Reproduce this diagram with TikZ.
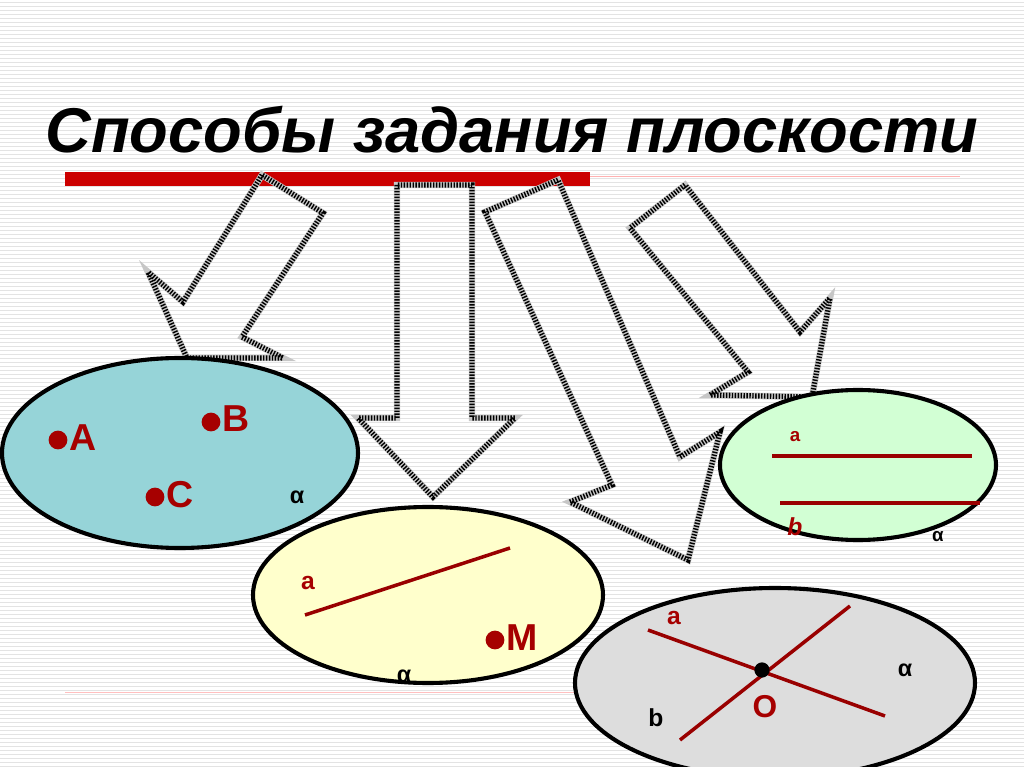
\documentclass[tikz,border=0pt]{standalone}
\usepackage{fontspec}
\setmainfont{Liberation Sans}
\begin{document}
\begin{tikzpicture}[x=0.03cm,y=-0.03cm,
  arr/.style={line width=5.5pt,draw=gray!45,line join=miter},
  arrd/.style={line width=4.5pt,draw=black,dash pattern=on 1.2pt off 1.3pt},
  pl/.style={line width=3pt,draw=red!60!black},
  dt/.style={circle,fill=red!65!black,inner sep=0pt,minimum size=16pt},
  lbl/.style={text=red!65!black,font=\bfseries\fontsize{32}{32}\selectfont},
  sl/.style={text=red!65!black,font=\bfseries\fontsize{21}{21}\selectfont},
  al/.style={font=\bfseries\fontsize{20}{20}\selectfont},
  ell/.style={draw=black,line width=3.5pt}]
\useasboundingbox (0,0) rectangle (1024,767);
\fill[white] (0,0) rectangle (1024,767);
\foreach \y in {2,6,...,766} \draw[gray!22,line width=0.5pt] (0,\y) -- (1024,\y);
\node[font=\bfseries\itshape\fontsize{54}{54}\selectfont] (title) at (512,130) {Способы задания плоскости};
\draw[red!30,line width=0.6pt] (590,176) -- (960,176);
\fill[red!80!black] (65,172) rectangle (590,186);
\draw[red!25,line width=0.8pt] (65,692) -- (960,692);
% arrows
\foreach \s in {arr,arrd}{
\draw[\s] (262,175)--(183,302)--(148,272)--(187,358)--(283,358)--(242,337)--(323,213)--cycle;
\draw[\s] (397,185)--(397,418)--(358,418)--(433,497)--(515,418)--(472,418)--(472,185)--cycle;
\draw[\s] (558,180)--(485,212)--(612,485)--(570,502)--(688,560)--(720,432)--(680,457)--cycle;
\draw[\s] (685,185)--(630,228)--(748,372)--(710,395)--(812,397)--(830,298)--(800,332)--cycle;
}
% ellipse 1
\draw[ell,fill={rgb,255:red,150;green,212;blue,216}] (180,453) ellipse [x radius=178,y radius=95];
\node[dt] (dA) at (58,440) {}; \node[lbl,anchor=west] (A) at (65,438) {A};
\node[dt] (dB) at (211,422) {}; \node[lbl,anchor=west] (B) at (218,419) {B};
\node[dt] (dC) at (155,497) {}; \node[lbl,anchor=west] (C) at (162,495) {C};
\node[al] (al1) at (297,497) {α};
% ellipse 2
\draw[ell,fill={rgb,255:red,255;green,255;blue,204}] (428,595) ellipse [x radius=175,y radius=88];
\coordinate (a2s) at (305,615); \coordinate (a2e) at (510,548);
\draw[pl] (a2s) -- (a2e);
\node[sl] (a2) at (308,583) {a};
\node[dt] (dM) at (495,640) {}; \node[lbl,anchor=west] (M) at (502,638) {M};
\node[al] (al2) at (404,676) {α};
% ellipse 3
\draw[ell,fill={rgb,255:red,210;green,255;blue,212}] (858,465) ellipse [x radius=138,y radius=75];
\coordinate (a3s) at (772,456); \coordinate (a3e) at (972,456);
\coordinate (b3s) at (780,503); \coordinate (b3e) at (980,503);
\draw[pl] (a3s)--(a3e); \draw[pl] (b3s)--(b3e);
\node[sl,font=\bfseries\fontsize{16}{16}\selectfont] (a3) at (795,437) {a};
\node[sl,font=\bfseries\itshape\fontsize{21}{21}\selectfont] (b3) at (795,527) {b};
\node[al,font=\bfseries\fontsize{16}{16}\selectfont] (al3) at (938,537) {α};
% ellipse 4
\draw[ell,fill={rgb,255:red,221;green,221;blue,221}] (775,683) ellipse [x radius=200,y radius=95];
\coordinate (a4s) at (648,630); \coordinate (a4e) at (885,716);
\coordinate (b4s) at (680,740); \coordinate (b4e) at (850,606);
\draw[pl] (a4s)--(a4e); \draw[pl] (b4s)--(b4e);
\node[circle,fill=black,inner sep=0pt,minimum size=13pt] (O4) at (762,670) {};
\node[sl] (a4) at (674,618) {a};
\node[sl,text=black] (b4) at (656,718) {b};
\node[lbl,font=\bfseries\fontsize{27}{27}\selectfont] (O) at (765,707) {O};
\node[al] (al4) at (905,670) {α};
\end{tikzpicture}
\end{document}
